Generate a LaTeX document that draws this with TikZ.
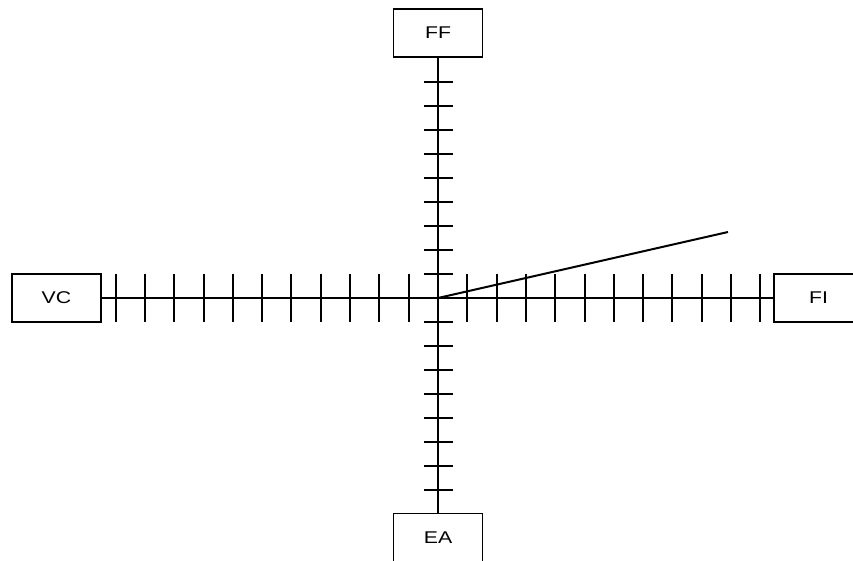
\documentclass[tikz,border=0pt]{standalone}
\usepackage{fontspec}
\setmainfont[FakeStretch=1.25]{Liberation Sans}
\begin{document}
\begin{tikzpicture}[x=1pt,y=-1pt,
  labelbox/.style={draw=black,line width=1.3pt,fill=white,minimum width=89pt,minimum height=48pt,inner sep=0pt,font=\fontsize{17}{20}\selectfont},
  axisline/.style={line width=2pt},
  tickline/.style={line width=2pt}]
\useasboundingbox (0,0) rectangle (853,561);
\begin{scope}
\clip (0,0) rectangle (853,561);
\coordinate (O) at (438,298);
\coordinate (P) at (728,232);
% ticks on horizontal axis
\foreach \k in {1,...,11} {
  \draw[tickline] ({438-round(29.3*\k)},273.5) -- ({438-round(29.3*\k)},322);
  \draw[tickline] ({438+round(29.3*\k)},273.5) -- ({438+round(29.3*\k)},322);
}
% ticks on vertical axis
\foreach \k in {1,...,9} {
  \draw[tickline] (423.5,298-24*\k) -- (452.5,298-24*\k);
}
\foreach \k in {1,...,8} {
  \draw[tickline] (423.5,298+24*\k) -- (452.5,298+24*\k);
}
\node[labelbox] (FF) at (438,33) {FF};
\node[labelbox] (EA) at (438,537.5) {EA};
\node[labelbox] (VC) at (56.5,298) {VC};
\node[labelbox] (FI) at (818.5,298) {FI};
\draw[axisline] (FF) -- (EA);
\draw[axisline] (VC) -- (FI);
\draw[axisline] (O) -- (P);
\end{scope}
\end{tikzpicture}
\end{document}
